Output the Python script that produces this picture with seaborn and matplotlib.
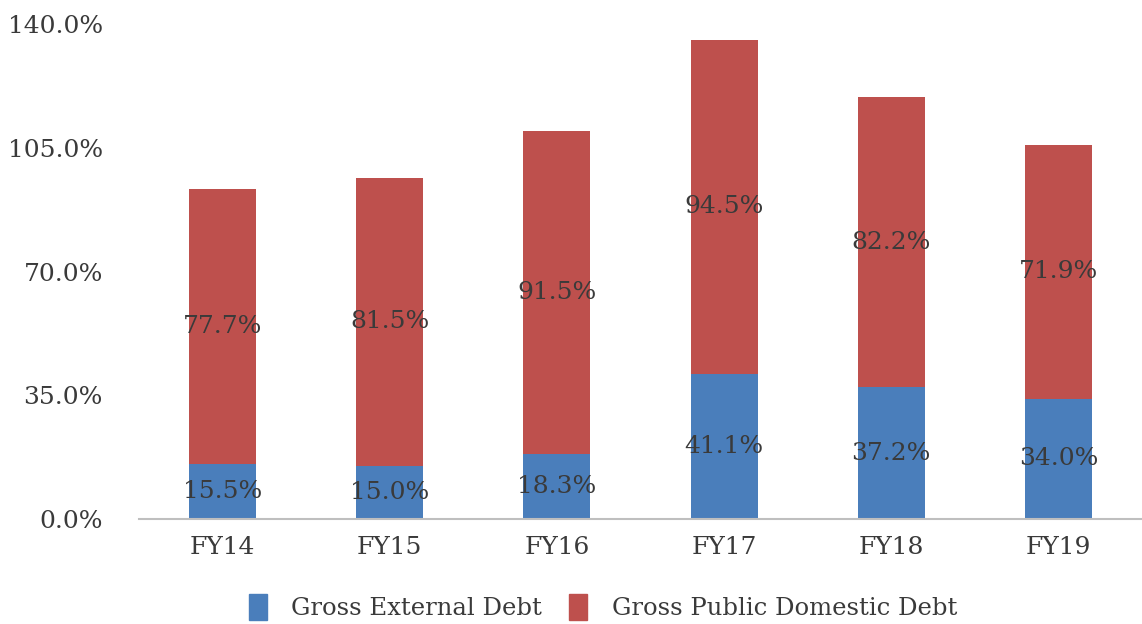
import numpy as np
import pandas as pd
import seaborn as sns
import matplotlib
matplotlib.use("Agg")
from matplotlib import pyplot as plt
from matplotlib.patches import Patch

years = ["FY14", "FY15", "FY16", "FY17", "FY18", "FY19"]
external = [15.5, 15.0, 18.3, 41.1, 37.2, 34.0]
domestic = [77.7, 81.5, 91.5, 94.5, 82.2, 71.9]

blue = "#4A7EBB"
red = "#BE504D"
txt = "#3a3a3a"

sns.set_theme(style="white")
plt.rcParams["font.family"] = ["DejaVu Serif"]

df = pd.DataFrame({"year": years, "external": external, "domestic": domestic})
df["total"] = df["external"] + df["domestic"]

fig = plt.figure(figsize=(11.42, 6.24), dpi=100)
ax = fig.add_axes([0.1217, 0.1683, 0.8783, 0.7932])

sns.barplot(data=df, x="year", y="total", color=red, width=0.4, saturation=1,
            linewidth=0, ax=ax)
sns.barplot(data=df, x="year", y="external", color=blue, width=0.4, saturation=1,
            linewidth=0, ax=ax)

for i, row in df.iterrows():
    ax.text(i, row["external"] / 2, f"{row['external']:.1f}%", ha="center", va="center",
            fontsize=18, color=txt)
    ax.text(i, row["external"] + row["domestic"] / 2, f"{row['domestic']:.1f}%",
            ha="center", va="center", fontsize=18, color=txt)

ax.set_ylim(0, 140)
ax.set_xlim(-0.5, 5.5)
ax.set_yticks(np.arange(0, 141, 35))
ax.set_yticklabels([f"{v:.1f}%" for v in np.arange(0, 141, 35)])
ax.set_xlabel("")
ax.set_ylabel("")
ax.tick_params(axis="both", labelsize=18, colors=txt, length=0)
ax.tick_params(axis="y", pad=26)
ax.tick_params(axis="x", pad=12)
for s in ["top", "right", "left"]:
    ax.spines[s].set_visible(False)
ax.spines["bottom"].set_color("#bfbfbf")
ax.spines["bottom"].set_linewidth(1.5)

handles = [Patch(color=blue, label="Gross External Debt"),
           Patch(color=red, label="Gross Public Domestic Debt")]
fig.legend(handles=handles, loc="center", bbox_to_anchor=(0.528, 0.027), ncol=2,
           frameon=False, fontsize=17.5, handlelength=0.75, handleheight=1.3,
           handletextpad=1.0, columnspacing=1.1, labelcolor=txt)

fig.savefig("out.png", dpi=100)
